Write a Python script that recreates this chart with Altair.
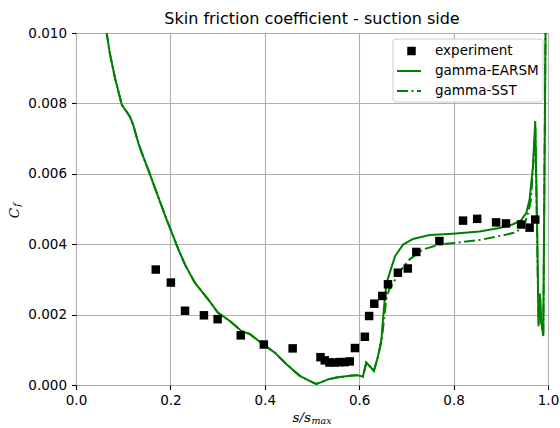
import altair as alt
import pandas as pd

# Experimental skin-friction data (suction side)
exp_s = [0.169, 0.201, 0.231, 0.271, 0.300, 0.349, 0.398, 0.459, 0.518, 0.527,
         0.537, 0.548, 0.559, 0.569, 0.580, 0.591, 0.612, 0.621, 0.632, 0.649,
         0.661, 0.682, 0.703, 0.721, 0.770, 0.820, 0.850, 0.890, 0.911, 0.943,
         0.961, 0.973]
exp_cf = [0.00328, 0.00291, 0.00211, 0.00198, 0.00187, 0.00141, 0.00115, 0.00104,
          0.00079, 0.00070, 0.00064, 0.00064, 0.00065, 0.00065, 0.00067, 0.00105,
          0.00137, 0.00196, 0.00231, 0.00253, 0.00286, 0.00319, 0.00331, 0.00378,
          0.00409, 0.00467, 0.00472, 0.00462, 0.00459, 0.00456, 0.00447, 0.00470]

# gamma-EARSM simulation
earsm_s = [0.062, 0.065, 0.072, 0.083, 0.097, 0.107, 0.114, 0.121, 0.132, 0.142,
           0.153, 0.171, 0.192, 0.217, 0.231, 0.252, 0.280, 0.301, 0.326, 0.351,
           0.368, 0.397, 0.421, 0.446, 0.474, 0.499, 0.509, 0.520, 0.534, 0.552,
           0.580, 0.594, 0.608, 0.615, 0.622, 0.631, 0.640, 0.647, 0.651, 0.654,
           0.658, 0.665, 0.676, 0.693, 0.714, 0.749, 0.798, 0.855, 0.897, 0.925,
           0.943, 0.954, 0.961, 0.968, 0.973, 0.977, 0.980, 0.983, 0.986, 0.990,
           0.995]
earsm_cf = [0.0106, 0.0100, 0.00940, 0.00870, 0.00796, 0.00777, 0.00763, 0.00740,
            0.00688, 0.00650, 0.00612, 0.00546, 0.00470, 0.00385, 0.00342, 0.00290,
            0.00243, 0.00205, 0.00182, 0.00153, 0.00145, 0.00115, 0.00092, 0.00059,
            0.00026, 0.00009, 0.00003, 0.00008, 0.00016, 0.00021, 0.00026, 0.00028,
            0.00024, 0.00064, 0.00054, 0.00040, 0.00082, 0.00130, 0.00196, 0.00243,
            0.00290, 0.00320, 0.00366, 0.00399, 0.00415, 0.00426, 0.00430, 0.00436,
            0.00446, 0.00456, 0.00468, 0.00489, 0.00527, 0.00620, 0.00750, 0.00450,
            0.00167, 0.00260, 0.00180, 0.00139, 0.0105]

# gamma-SST simulation
sst_s = [0.062, 0.065, 0.072, 0.083, 0.097, 0.107, 0.114, 0.121, 0.132, 0.142,
         0.153, 0.171, 0.192, 0.217, 0.231, 0.252, 0.280, 0.301, 0.326, 0.351,
         0.368, 0.397, 0.421, 0.446, 0.474, 0.499, 0.509, 0.520, 0.534, 0.552,
         0.580, 0.594, 0.608, 0.615, 0.622, 0.631, 0.640, 0.648, 0.653, 0.657,
         0.663, 0.672, 0.686, 0.707, 0.735, 0.770, 0.806, 0.855, 0.897, 0.933,
         0.950, 0.958, 0.964, 0.969, 0.973, 0.977, 0.980, 0.983, 0.986, 0.990,
         0.995]
sst_cf = [0.0106, 0.0100, 0.00940, 0.00870, 0.00796, 0.00777, 0.00763, 0.00740,
          0.00688, 0.00650, 0.00612, 0.00546, 0.00470, 0.00385, 0.00342, 0.00290,
          0.00243, 0.00205, 0.00182, 0.00153, 0.00145, 0.00115, 0.00092, 0.00059,
          0.00026, 0.00009, 0.00003, 0.00008, 0.00016, 0.00021, 0.00026, 0.00028,
          0.00024, 0.00064, 0.00054, 0.00040, 0.00080, 0.00130, 0.00190, 0.00243,
          0.00270, 0.00290, 0.00323, 0.00357, 0.00385, 0.00399, 0.00404, 0.00412,
          0.00423, 0.00434, 0.00456, 0.00489, 0.00527, 0.00630, 0.00730, 0.00420,
          0.00175, 0.00250, 0.00170, 0.00145, 0.0105]

x_ticks = [0.0, 0.2, 0.4, 0.6, 0.8, 1.0]
y_ticks = [0.000, 0.002, 0.004, 0.006, 0.008, 0.010]

GREEN = "#008000"
DASHDOT = [11, 3.5, 2, 3.5]
W, H = 472, 352

exp_df = pd.DataFrame({"s": exp_s, "cf": exp_cf})
earsm_df = pd.DataFrame({"s": earsm_s, "cf": earsm_cf, "i": range(len(earsm_s))})
sst_df = pd.DataFrame({"s": sst_s, "cf": sst_cf, "i": range(len(sst_s))})
one = pd.DataFrame({"k": [0]})

xs = alt.Scale(domain=[0, 1], nice=False, zero=False)
ys = alt.Scale(domain=[0, 0.01], nice=False)

axis_style = dict(title=None, grid=True, gridColor="#b0b0b0", gridWidth=1.1,
                  domain=False, tickColor="#000000", tickSize=4.5, tickWidth=1.1,
                  labelFont="DejaVu Sans", labelFontSize=13.5, labelColor="#000000",
                  labelFlush=False, labelOverlap=False)
x_axis = alt.Axis(values=x_ticks, format=".1f", labelPadding=3.5, **axis_style)
y_axis = alt.Axis(values=y_ticks, format=".3f", labelPadding=5, **axis_style)

X = alt.X("s:Q", scale=xs, axis=x_axis)
Y = alt.Y("cf:Q", scale=ys, axis=y_axis)

earsm = alt.Chart(earsm_df).mark_line(color=GREEN, strokeWidth=2, clip=True).encode(
    x=X, y=Y, order="i:Q")
sst = alt.Chart(sst_df).mark_line(color=GREEN, strokeWidth=2, clip=True,
                                  strokeDash=DASHDOT).encode(
    x=X, y=Y, order="i:Q")
exp = alt.Chart(exp_df).mark_point(shape="square", filled=True, color="#000000",
                                   size=72, opacity=1).encode(x=X, y=Y)


def txt(text, x, y, **kw):
    return alt.Chart(one).mark_text(text=text, color="#000000", **kw).encode(
        x=alt.value(x), y=alt.value(y))


title = txt("Skin friction coefficient - suction side", W / 2, -9,
            font="DejaVu Sans", fontSize=16, align="center",
            baseline="alphabetic")
xlab1 = txt("s/s", 235, 388.5, font="DejaVu Serif", fontStyle="italic",
            fontSize=13.5, align="right", baseline="alphabetic")
xlab2 = txt("max", 235.5, 391, font="DejaVu Serif", fontStyle="italic",
            fontSize=9.5, align="left", baseline="alphabetic")
ylab1 = txt("C", -61, 180, font="DejaVu Serif", fontStyle="italic",
            fontSize=13.5, align="center", baseline="middle", angle=270)
ylab2 = txt("f", -59.5, 172, font="DejaVu Serif", fontStyle="italic",
            fontSize=9.5, align="center", baseline="middle", angle=270)

# legend box and entries
leg_box = alt.Chart(one).mark_rect(fill="#ffffff", fillOpacity=0.8,
                                   stroke="#cccccc", strokeWidth=1,
                                   cornerRadius=3).encode(
    x=alt.value(317), x2=alt.value(467), y=alt.value(6), y2=alt.value(69))
leg_sq = alt.Chart(one).mark_point(shape="square", filled=True, color="#000000",
                                   size=72, opacity=1).encode(
    x=alt.value(335.5), y=alt.value(18))
leg_l1 = alt.Chart(one).mark_rule(color=GREEN, strokeWidth=2).encode(
    x=alt.value(321), x2=alt.value(345), y=alt.value(38))
leg_l2 = alt.Chart(one).mark_rule(color=GREEN, strokeWidth=2,
                                  strokeDash=DASHDOT).encode(
    x=alt.value(321), x2=alt.value(345), y=alt.value(58))
leg_t = [txt(t, 359, yy, font="DejaVu Sans", fontSize=13.5, align="left",
             baseline="middle")
         for t, yy in [("experiment", 18), ("gamma-EARSM", 38), ("gamma-SST", 58)]]

chart = alt.layer(
    earsm, sst, exp, title, xlab1, xlab2, ylab1, ylab2,
    leg_box, leg_sq, leg_l1, leg_l2, *leg_t
).properties(
    width=W, height=H,
    autosize=alt.AutoSizeParams(type="none"),
    padding={"left": 76, "top": 33, "right": 12, "bottom": 43},
).configure_view(
    stroke="#000000", strokeWidth=1.1
).configure(background="#ffffff")

chart.save("out.html", embed_options={"renderer": "svg", "actions": False})
